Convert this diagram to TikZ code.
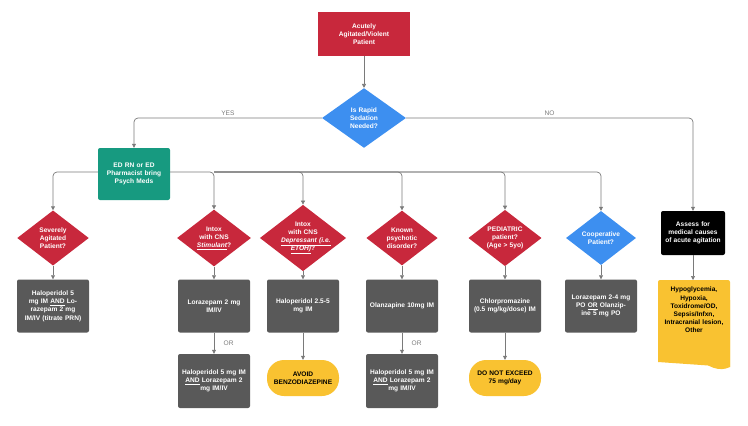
\documentclass[tikz,border=0pt]{standalone}
\usepackage{fontspec}
\setmainfont{Liberation Sans}
\usetikzlibrary{arrows.meta,shapes.geometric}
\definecolor{cred}{HTML}{C8283C}
\definecolor{cblue}{HTML}{3D8FF0}
\definecolor{cgreen}{HTML}{179A80}
\definecolor{cgrey}{HTML}{595959}
\definecolor{cyel}{HTML}{F9C231}
\definecolor{cline}{HTML}{7A7A7A}
\begin{document}
\begin{tikzpicture}[x=1pt,y=-1pt,
  txt/.style={font=\fontsize{6.6}{8.2}\selectfont\bfseries,align=center,text=white},
  box/.style={txt,rectangle,rounded corners=2pt,minimum width=72pt,minimum height=53pt,text width=68pt,inner sep=1pt},
  gbox/.style={box,fill=cgrey},
  dia/.style={txt,diamond,aspect=1.3,minimum width=70pt,minimum height=54pt,inner sep=0pt,text width=44pt},
  rdia/.style={dia,fill=cred},
  bdia/.style={dia,fill=cblue},
  ybox/.style={txt,text=black,rounded corners=17pt,fill=cyel,minimum width=72pt,minimum height=36pt,text width=70pt,inner sep=1pt},
  con/.style={draw=cline,line width=0.7pt,-{Triangle[width=4pt,length=4pt]},rounded corners=4pt},
  lbl/.style={font=\fontsize{6.6}{8}\selectfont,text=cline}]
\useasboundingbox (0,0) rectangle (748,426);
\node[txt,fill=cred,minimum width=92pt,minimum height=44pt,text width=80pt,inner sep=1pt] (top) at (364,34) {Acutely\\Agitated/Violent\\Patient};
\node[dia,fill=cblue,minimum width=84pt,minimum height=56pt,text width=50pt] (rapid) at (364,118) {Is Rapid Sedation\\Needed?};
\node[box,fill=cgreen,minimum height=52pt] (ed) at (134,174) {ED RN or ED\\Pharmacist bring\\Psych Meds};
\node[txt,fill=black,rounded corners=2pt,minimum width=63pt,minimum height=44pt,text width=62pt,inner sep=1pt] (assess) at (693,233) {Assess for\\medical causes\\of acute agitation};

\node[rdia] (d1) at (53,238) {Severely\\Agitated\\Patient?};
\node[rdia] (d2) at (214,238) {Intox with CNS\\\underline{\itshape Stimulant}?};
\node[rdia] (d3) at (303,238) {Intox\\with CNS\\\underline{\itshape Depressant (i.e.}\\\underline{\itshape ETOH)}?};
\node[rdia] (d4) at (402,238) {Known\\psychotic\\disorder?};
\node[rdia] (d5) at (505,238) {PEDIATRIC\\patient?\\(Age > 5yo)};
\node[bdia] (d6) at (601,238) {Cooperative\\Patient?};

\node[gbox] (b1) at (53,306) {Haloperidol 5 mg IM \underline{AND} Lorazepam 2 mg IM/IV (titrate PRN)};
\node[gbox] (b2) at (214,306) {Lorazepam 2 mg\\IM/IV};
\node[gbox] (b3) at (303,306) {Haloperidol 2.5-5\\mg IM};
\node[gbox] (b4) at (402,306) {Olanzapine 10mg IM};
\node[gbox] (b5) at (505,306) {Chlorpromazine\\(0.5 mg/kg/dose) IM};
\node[gbox] (b6) at (601,306) {Lorazepam 2-4 mg PO \underline{OR} Olanzipine 5 mg PO};

\node[gbox,minimum height=54pt] (c2) at (214,381) {Haloperidol 5 mg IM\\\underline{AND} Lorazepam 2\\mg IM/IV};
\node[ybox] (c3) at (303,378) {AVOID\\BENZODIAZEPINE};
\node[gbox,minimum height=54pt] (c4) at (402,381) {Haloperidol 5 mg IM\\\underline{AND} Lorazepam 2\\mg IM/IV};
\node[ybox] (c5) at (505,378) {DO NOT EXCEED\\75 mg/day};

\fill[cyel,rounded corners=2pt] (658,362) -- (658,280) -- (730,280) -- (730,367);
\fill[cyel] (658,362) .. controls (672,350) and (684,344) .. (696,356) .. controls (708,368) and (720,372) .. (730,367) -- (730,300) -- (658,300) -- cycle;
\node[txt,text=black,text width=72pt] (doc) at (694,310) {Hypoglycemia,\\Hypoxia,\\Toxidrome/OD,\\Sepsis/Infxn,\\Intracranial lesion,\\Other};
\coordinate (doctop) at (693,280);

\draw[con] (top) -- (rapid);
\draw[con] (rapid.west) -| node[lbl,pos=0.25,above=-1pt]{YES} (ed.north);
\draw[con] (rapid.east) -| node[lbl,pos=0.25,above=-1pt]{NO} (assess.north);
\draw[con] (assess) -- (doctop);
\draw[con] (ed.west) ++(0,-2) -| (d1.north);
\draw[con] (ed.east) ++(0,-2) -| (d2.north);
\foreach \d in {d3,d4,d5,d6}{\draw[con] (214,172) -| (\d.north);}
\foreach \i in {1,...,6}{\draw[con] (d\i) -- (b\i);}
\draw[con] (b2) -- node[lbl,right=6pt]{OR} (c2);
\draw[con] (b3) -- (c3);
\draw[con] (b4) -- node[lbl,right=6pt]{OR} (c4);
\draw[con] (b5) -- (c5);
\end{tikzpicture}
\end{document}
